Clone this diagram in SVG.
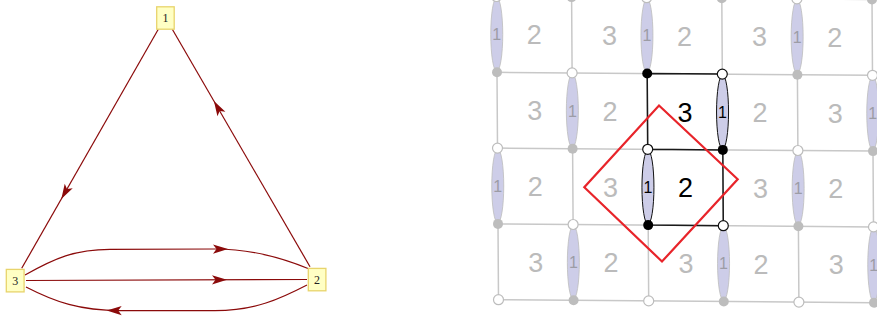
<svg xmlns="http://www.w3.org/2000/svg" xmlns:xlink="http://www.w3.org/1999/xlink" width="877" height="322" viewBox="0 0 877 322">
<style>
.node rect{fill:#ffffc4;stroke:#e8d46c;stroke-width:1.3}
.node text{font-family:"Liberation Serif",serif;font-size:12px;fill:#222;text-anchor:middle}
.edge{fill:none;stroke:#8b0a0a;stroke-width:1.2}
.ah{fill:#8b0a0a}
.gl{stroke:#c8c8c8;stroke-width:1.5;fill:none}
.bl{stroke:#1a1a1a;stroke-width:1.5;fill:none}
.el{fill:#cdcde8;stroke:#bdbdbd;stroke-width:0.8}
.elb{fill:#cdcde8;stroke:#111;stroke-width:1}
.wd{fill:#fff;stroke:#bdbdbd;stroke-width:1.2}
.gd{fill:#bdbdbd}
.bd{fill:#000}
.wdb{fill:#fff;stroke:#111;stroke-width:1.2}
.cl{font-family:"Liberation Sans",Arial,sans-serif;font-size:27px;fill:#bbbbbb;text-anchor:middle}
.clb{font-family:"Liberation Sans",Arial,sans-serif;font-size:27px;fill:#000;text-anchor:middle}
.e1{font-family:"Liberation Sans",Arial,sans-serif;font-size:16px;fill:#9c9ca6;text-anchor:middle}
.e1b{font-family:"Liberation Sans",Arial,sans-serif;font-size:16px;fill:#000;text-anchor:middle}
</style>
<defs>
<path id="arrow" d="M0,0 L-15,-4.6 L-11.5,0 L-15,4.6 Z"/>
</defs>
<rect width="877" height="322" fill="#fff"/>

<!-- left graph -->
<g id="connectors">
<path class="edge" d="M158.3,29.3 L21.7,268.3"/>
<path class="edge" d="M310,266.7 L172.3,29.3"/>
<path class="edge" d="M26,280.5 L307,279.5"/>
<path class="edge" d="M25,275 C55,258 75,249.5 110,249.3 L215,249 C250,249 280,257 308,268.5"/>
<path class="edge" d="M307,285 C280,299 255,310.6 215,310.6 L120,310.6 C80,310.6 55,302 26,287"/>
<use xlink:href="#arrow" class="ah" transform="translate(61.3,199) rotate(119.7)"/>
<use xlink:href="#arrow" class="ah" transform="translate(213.9,101) rotate(-120.1)"/>
<use xlink:href="#arrow" class="ah" transform="translate(227,279.8)"/>
<use xlink:href="#arrow" class="ah" transform="translate(228,249.1)"/>
<use xlink:href="#arrow" class="ah" transform="translate(106.7,310.6) rotate(180)"/>
</g>
<g id="node1" class="node"><rect x="156.7" y="6.8" width="17.5" height="22.4"/><text x="165.5" y="22.2">1</text></g>
<g id="node2" class="node"><rect x="308.3" y="268.4" width="17.6" height="22.4"/><text x="317.1" y="283.8">2</text></g>
<g id="node3" class="node"><rect x="6.3" y="269.4" width="17.8" height="22.5"/><text x="15.2" y="284.9">3</text></g>

<!-- right grid -->
<g id="grid">
<path class="gl" d="M496.5,-3.5 L498.5,299.7 M571.6,-2.9 L573.6,300.3 M646.7,-2.3 L648.7,300.9 M721.8,-1.7 L723.8,301.5 M796.9,-1.1 L798.9,302.1 M872,-0.5 L874,302.7"/>
<path class="gl" d="M796.9,-1.1 L872,-0.5 M497,72.3 L872.5,75.3 M497.5,148.1 L873,151.1 M498,223.9 L873.5,226.9 M498.5,299.7 L874,302.7"/>
</g>
<g id="highlight">
<path class="bl" d="M647.2,73.5 L648.2,225.1 M722.3,74.1 L723.3,225.7 M647.2,73.5 L722.3,74.1 M647.7,149.3 L722.8,149.9 M648.2,225.1 L723.3,225.7"/>
</g>
<g id="ellipses">
<ellipse class="el" cx="496.75" cy="34.4" rx="6" ry="37"/>
<ellipse class="el" cx="646.95" cy="35.6" rx="6" ry="37"/>
<ellipse class="el" cx="797.15" cy="36.8" rx="6" ry="37"/>
<ellipse class="el" cx="572.35" cy="110.8" rx="6" ry="37"/>
<ellipse class="elb" cx="722.55" cy="112" rx="6" ry="37"/>
<ellipse class="el" cx="872.75" cy="113.2" rx="6" ry="37"/>
<ellipse class="el" cx="497.75" cy="186" rx="6" ry="37"/>
<ellipse class="elb" cx="647.95" cy="187.2" rx="6" ry="37"/>
<ellipse class="el" cx="798.15" cy="188.4" rx="6" ry="37"/>
<ellipse class="el" cx="573.35" cy="262.4" rx="6" ry="37"/>
<ellipse class="el" cx="723.55" cy="263.6" rx="6" ry="37"/>
<ellipse class="el" cx="873.75" cy="264.8" rx="6" ry="37"/>
<text class="e1" x="496.75" y="40.1">1</text>
<text class="e1" x="646.95" y="41.3">1</text>
<text class="e1" x="797.15" y="42.5">1</text>
<text class="e1" x="572.35" y="116.5">1</text>
<text class="e1b" x="722.55" y="117.7">1</text>
<text class="e1" x="872.75" y="118.9">1</text>
<text class="e1" x="497.75" y="191.7">1</text>
<text class="e1b" x="647.95" y="192.9">1</text>
<text class="e1" x="798.15" y="194.1">1</text>
<text class="e1" x="573.35" y="268.1">1</text>
<text class="e1" x="723.55" y="269.3">1</text>
<text class="e1" x="873.75" y="270.5">1</text>
</g>
<g id="dots">
<circle class="wd" cx="496.5" cy="-3.5" r="5"/>
<circle class="gd" cx="497" cy="72.3" r="5"/>
<circle class="wd" cx="497.5" cy="148.1" r="5"/>
<circle class="gd" cx="498" cy="223.9" r="5"/>
<circle class="wd" cx="498.5" cy="299.7" r="5"/>
<circle class="gd" cx="571.6" cy="-2.9" r="5"/>
<circle class="wd" cx="572.1" cy="72.9" r="5"/>
<circle class="gd" cx="572.6" cy="148.7" r="5"/>
<circle class="wd" cx="573.1" cy="224.5" r="5"/>
<circle class="gd" cx="573.6" cy="300.3" r="5"/>
<circle class="wd" cx="646.7" cy="-2.3" r="5"/>
<circle class="bd" cx="647.2" cy="73.5" r="5"/>
<circle class="wdb" cx="647.7" cy="149.3" r="5"/>
<circle class="bd" cx="648.2" cy="225.1" r="5"/>
<circle class="wd" cx="648.7" cy="300.9" r="5"/>
<circle class="gd" cx="721.8" cy="-1.7" r="5"/>
<circle class="wdb" cx="722.3" cy="74.1" r="5"/>
<circle class="bd" cx="722.8" cy="149.9" r="5"/>
<circle class="wdb" cx="723.3" cy="225.7" r="5"/>
<circle class="gd" cx="723.8" cy="301.5" r="5"/>
<circle class="wd" cx="796.9" cy="-1.1" r="5"/>
<circle class="gd" cx="797.4" cy="74.7" r="5"/>
<circle class="wd" cx="797.9" cy="150.5" r="5"/>
<circle class="gd" cx="798.4" cy="226.3" r="5"/>
<circle class="wd" cx="798.9" cy="302.1" r="5"/>
<circle class="gd" cx="872" cy="-0.5" r="5"/>
<circle class="wd" cx="872.5" cy="75.3" r="5"/>
<circle class="gd" cx="873" cy="151.1" r="5"/>
<circle class="wd" cx="873.5" cy="226.9" r="5"/>
<circle class="gd" cx="874" cy="302.7" r="5"/>
</g>
<g id="cells">
<text class="cl" x="534.3" y="44.4">2</text>
<text class="cl" x="609.4" y="45">3</text>
<text class="cl" x="684.5" y="45.6">2</text>
<text class="cl" x="759.6" y="46.2">3</text>
<text class="cl" x="834.7" y="46.8">2</text>
<text class="cl" x="534.8" y="120.2">3</text>
<text class="cl" x="609.9" y="120.8">2</text>
<text class="clb" x="685" y="121.6">3</text>
<text class="cl" x="760.1" y="122">2</text>
<text class="cl" x="835.2" y="122.6">3</text>
<text class="cl" x="535.3" y="196">2</text>
<text class="cl" x="610.4" y="196.6">3</text>
<text class="clb" x="685.5" y="197.2">2</text>
<text class="cl" x="760.6" y="197.8">3</text>
<text class="cl" x="835.7" y="198.4">2</text>
<text class="cl" x="535.8" y="271.8">3</text>
<text class="cl" x="610.9" y="272.4">2</text>
<text class="cl" x="686" y="273">3</text>
<text class="cl" x="761.1" y="273.6">2</text>
<text class="cl" x="836.2" y="274.2">3</text>
</g>
<g id="region">
<path d="M659,105.5 L737.7,179.3 L662,261.5 L584.3,187.3 Z" fill="none" stroke="#e8242a" stroke-width="2.2" stroke-linejoin="miter"/>
</g>
</svg>
